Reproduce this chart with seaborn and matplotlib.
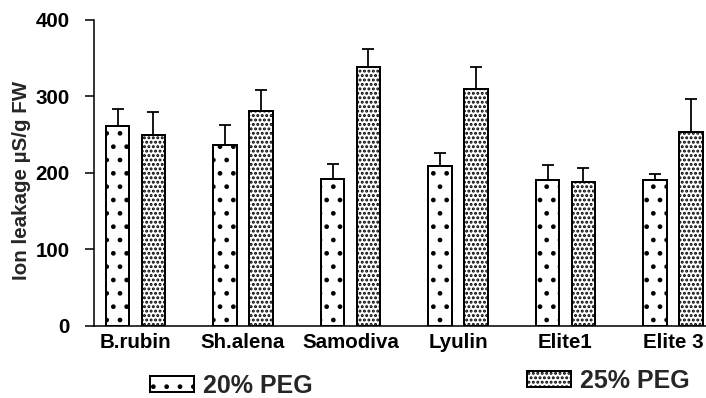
import matplotlib
matplotlib.use("Agg")
import matplotlib.pyplot as plt
import seaborn as sns
import pandas as pd
import numpy as np

cultivars = ["B.rubin", "Sh.alena", "Samodiva", "Lyulin", "Elite1", "Elite 3"]
treatments = ["20% PEG", "25% PEG"]
peg20 = [261, 237, 192, 209, 191, 191]
peg20_err = [22, 25, 20, 17, 19, 8]
peg25 = [249, 281, 338, 310, 188, 254]
peg25_err = [31, 27, 24, 28, 18, 43]

sns.set_theme(style="ticks")
plt.rcParams["font.family"] = ["Liberation Sans", "DejaVu Sans"]
plt.rcParams["font.weight"] = "bold"
plt.rcParams["axes.labelweight"] = "bold"
plt.rcParams["hatch.linewidth"] = 1.8
plt.rcParams["hatch.color"] = "black"

df = pd.DataFrame({
    "cultivar": cultivars * 2,
    "treatment": [treatments[0]] * len(cultivars) + [treatments[1]] * len(cultivars),
    "value": peg20 + peg25,
})

fig = plt.figure(figsize=(706 / 80, 398 / 80), dpi=80)
ax = fig.add_axes([0.1336, 0.1817, 0.8664, 0.7681])

sns.barplot(data=df, x="cultivar", y="value", hue="treatment",
            order=cultivars, hue_order=treatments,
            palette=["white", "white"], saturation=1,
            edgecolor="black", linewidth=1.8,
            width=0.664, gap=0.34, errorbar=None, legend=False, ax=ax)

bars = list(ax.containers)
for cont, hatch, err in zip(bars, [".", "..."], [peg20_err, peg25_err]):
    xs, hs = [], []
    for p in cont.patches:
        p.set_hatch(hatch)
        xs.append(p.get_x() + p.get_width() / 2)
        hs.append(p.get_height())
    ax.errorbar(xs, hs, yerr=[np.zeros(len(err)), err], fmt="none",
                ecolor="black", elinewidth=1.6, capsize=5, capthick=1.6)

ax.set_ylim(0, 400)
ax.set_yticks([0, 100, 200, 300, 400])
ax.set_xlim(-0.383, 5.307)
ax.set_xlabel("")
ax.set_ylabel("Ion leakage µS/g FW", fontsize=18.5, fontweight="bold")
ax.yaxis.set_label_coords(-0.1035, 0.4766)

for s in ["top", "right"]:
    ax.spines[s].set_visible(False)
for s in ["left", "bottom"]:
    ax.spines[s].set_linewidth(1.4)
    ax.spines[s].set_color("black")

ax.tick_params(axis="y", length=8, width=1.4, pad=14, labelsize=18.5, colors="black")
ax.tick_params(axis="x", length=0, pad=7, labelsize=18.5, colors="black")
for lab in ax.get_xticklabels() + ax.get_yticklabels():
    lab.set_fontweight("bold")

# two separate legend entries, as in the original
leg_font = {"weight": "bold", "size": 22.5}
fig.legend([bars[0].patches[0]], [treatments[0]], loc="center left",
           bbox_to_anchor=(150 / 706, 1 - 386 / 398), frameon=False, prop=leg_font,
           handlelength=1.75, handleheight=0.58, handletextpad=0.36,
           borderpad=0, borderaxespad=0)
fig.legend([bars[1].patches[0]], [treatments[1]], loc="center left",
           bbox_to_anchor=(527 / 706, 1 - 381 / 398), frameon=False, prop=leg_font,
           handlelength=1.75, handleheight=0.58, handletextpad=0.36,
           borderpad=0, borderaxespad=0)

fig.savefig("out.png", dpi=80)
